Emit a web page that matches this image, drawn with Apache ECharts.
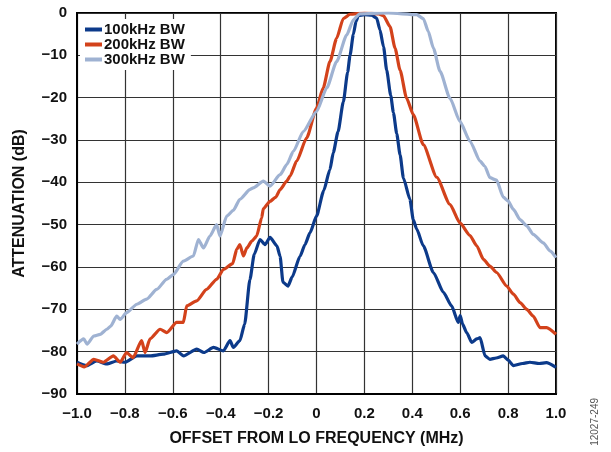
<!DOCTYPE html>
<html>
<head>
<meta charset="utf-8">
<script src="https://cdn.jsdelivr.net/npm/echarts@6/dist/echarts.min.js"></script>
<style>
html,body{margin:0;padding:0;background:#fff;}
#chart{width:611px;height:452px;}
</style>
</head>
<body>
<div id="chart"></div>
<script>
// ---- data ----
var seriesNames = ['100kHz BW', '200kHz BW', '300kHz BW'];

var bw100X = [-1.0,-0.96,-0.918,-0.876,-0.834,-0.8,-0.75,-0.695,-0.64,-0.584,-0.555,-0.5,-0.47,-0.43,-0.389,-0.361,-0.347,-0.32,-0.3,-0.278,-0.26,-0.236,-0.215,-0.194,-0.165,-0.152,-0.14,-0.119,-0.102,-0.069,-0.048,-0.027,0.0,0.03,0.056,0.07,0.09,0.112,0.13,0.14,0.154,0.165,0.175,0.2,0.23,0.251,0.265,0.28,0.293,0.31,0.321,0.335,0.349,0.363,0.39,0.404,0.418,0.446,0.488,0.53,0.564,0.592,0.6,0.61,0.627,0.648,0.669,0.683,0.704,0.724,0.75,0.78,0.8,0.822,0.86,0.891,0.93,0.96,1.0];
var bw100Y = [-82.5,-83.3,-82.2,-82.9,-82.2,-82.5,-81,-81,-80.6,-79.8,-81,-79.4,-80.2,-79,-79.8,-77.4,-79,-77.4,-73.5,-63,-57,-53.5,-54.7,-53,-55,-57.5,-63.6,-64.5,-62.4,-57.5,-54.7,-51.9,-48,-42,-37,-33,-28,-21,-14,-10,-5,-2,-0.6,-0.4,-0.5,-1.2,-4,-8,-13.5,-19.5,-23.5,-28.5,-33.5,-39,-44,-48.8,-51,-55,-61.3,-66,-69.2,-73.1,-71.5,-73.5,-75.5,-77.8,-77,-76.7,-81,-81.8,-81.5,-81,-82,-83.3,-82.8,-82.5,-82.8,-82.6,-83.7];

var bw200X = [-1.0,-0.97,-0.93,-0.89,-0.848,-0.82,-0.793,-0.766,-0.73,-0.716,-0.695,-0.653,-0.625,-0.584,-0.556,-0.542,-0.5,-0.459,-0.417,-0.389,-0.35,-0.333,-0.32,-0.305,-0.291,-0.27,-0.25,-0.229,-0.222,-0.194,-0.17,-0.152,-0.124,-0.11,-0.083,-0.041,0.0,0.028,0.056,0.084,0.112,0.14,0.2,0.26,0.279,0.307,0.328,0.349,0.376,0.404,0.446,0.502,0.557,0.599,0.64,0.669,0.697,0.724,0.752,0.794,0.822,0.85,0.878,0.905,0.933,0.961,1.0];
var bw200Y = [-82.9,-83.6,-81.8,-82.5,-81,-82.5,-80.2,-81.4,-77.4,-80.2,-77,-74.7,-75.5,-73.1,-73.1,-69.2,-68,-65.3,-62.9,-60.6,-59.2,-55.8,-54.7,-57.4,-55.5,-53.9,-52.7,-48.4,-46.2,-44.5,-43.5,-41.7,-39.7,-38.5,-35,-29.5,-22.5,-17.7,-11.5,-6,-1.3,-0.3,0,-0.2,-0.6,-3.2,-8.3,-13.5,-20.1,-24,-31.1,-38.8,-45.2,-49.6,-52.5,-55,-58.2,-59.8,-61.3,-64.5,-66.4,-68.4,-70,-71.6,-74.3,-74.3,-75.9];

var bw300X = [-1.0,-0.972,-0.958,-0.93,-0.903,-0.875,-0.86,-0.834,-0.82,-0.793,-0.75,-0.709,-0.667,-0.626,-0.598,-0.556,-0.514,-0.493,-0.472,-0.445,-0.417,-0.403,-0.375,-0.347,-0.32,-0.278,-0.264,-0.222,-0.194,-0.152,-0.124,-0.097,-0.055,0.0,0.043,0.084,0.126,0.154,0.18,0.3,0.418,0.446,0.467,0.488,0.516,0.557,0.599,0.641,0.683,0.703,0.724,0.752,0.78,0.8,0.822,0.85,0.878,0.905,0.947,0.975,1.0];
var bw300Y = [-78.2,-77,-78.2,-76.3,-75.9,-74.7,-74,-71.6,-72.4,-70.8,-68.8,-67.6,-65.3,-62.9,-61.8,-58.6,-57.4,-53.5,-55.5,-52.7,-50,-52.7,-48,-46.6,-44,-41.7,-41.3,-39.7,-40.9,-38.2,-35.8,-32.7,-28,-23.3,-17.7,-11.5,-5.2,-1.6,-0.2,0,-0.4,-1.3,-4.4,-8.3,-13.8,-20.1,-25.6,-30.3,-35,-36.2,-38.9,-39.5,-43.5,-44.4,-46.4,-48.8,-50.3,-52.3,-54.3,-56.2,-57.8];

var xTickValues = [-1.0,-0.8,-0.6,-0.4,-0.2,0,0.2,0.4,0.6,0.8,1.0];
var xTickLabels = ['\u22121.0','\u22120.8','\u22120.6','\u22120.4','\u22120.2','0','0.2','0.4','0.6','0.8','1.0'];
var yTickValues = [0,-10,-20,-30,-40,-50,-60,-70,-80,-90];
var yTickLabels = ['0','\u221210','\u221220','\u221230','\u221240','\u221250','\u221260','\u221270','\u221280','\u221290'];

function zip(xs, ys){ return xs.map(function(x,i){ return [x, ys[i]]; }); }
function lookup(vals, labels, v){
  for (var i=0;i<vals.length;i++){ if (Math.abs(vals[i]-v)<1e-6) return labels[i]; }
  return '';
}

var colors = ['#0c3a8a', '#d3421b', '#9fb2d2'];
var font = 'Liberation Sans, Arial, Helvetica, sans-serif';

var chart = echarts.init(document.getElementById('chart'), null, {renderer:'canvas'});
chart.setOption({
  animation: false,
  backgroundColor: '#ffffff',
  grid: {left: 77, right: 55, top: 13, bottom: 57, show: true, borderColor: '#000', borderWidth: 2, backgroundColor: 'transparent'},
  legend: {
    data: seriesNames,
    orient: 'vertical',
    left: 80, top: 19,
    backgroundColor: '#fff',
    padding: [3, 6, 3, 5],
    itemGap: 0,
    itemWidth: 17, itemHeight: 4,
    icon: 'rect',
    textStyle: {fontFamily: font, fontWeight: 'bold', fontSize: 15, color: '#111', padding: [0,0,0,-3]}
  },
  xAxis: {
    type: 'value', min: -1, max: 1, interval: 0.2,
    name: 'OFFSET FROM LO FREQUENCY (MHz)', nameLocation: 'middle', nameGap: 37,
    nameTextStyle: {fontFamily: font, fontWeight: 'bold', fontSize: 16, color: '#111'},
    axisLine: {show: true, onZero: false, lineStyle: {color: '#000', width: 2}},
    axisTick: {show: false},
    axisLabel: {fontFamily: font, fontWeight: 'bold', fontSize: 15, color: '#111', margin: 12,
      formatter: function(v){ return lookup(xTickValues, xTickLabels, v); }},
    splitLine: {show: true, lineStyle: {color: '#333', width: 1.2}}
  },
  yAxis: {
    type: 'value', min: -90, max: 0, interval: 10,
    name: 'ATTENUATION (dB)', nameLocation: 'middle', nameGap: 49, nameRotate: 90,
    nameTextStyle: {fontFamily: font, fontWeight: 'bold', fontSize: 16, color: '#111'},
    axisLine: {show: true, onZero: false, lineStyle: {color: '#000', width: 2}},
    axisTick: {show: false},
    axisLabel: {fontFamily: font, fontWeight: 'bold', fontSize: 15, color: '#111', margin: 10,
      formatter: function(v){ return lookup(yTickValues, yTickLabels, v); }},
    splitLine: {show: true, lineStyle: {color: '#333', width: 1.2}}
  },
  series: [
    {name: seriesNames[0], type: 'line', data: zip(bw100X, bw100Y), showSymbol: false, smooth: 0.2, smoothMonotone: 'x', lineStyle: {color: colors[0], width: 3.2}, itemStyle: {color: colors[0]}},
    {name: seriesNames[1], type: 'line', data: zip(bw200X, bw200Y), showSymbol: false, smooth: 0.2, smoothMonotone: 'x', lineStyle: {color: colors[1], width: 3.2}, itemStyle: {color: colors[1]}},
    {name: seriesNames[2], type: 'line', data: zip(bw300X, bw300Y), showSymbol: false, smooth: 0.2, smoothMonotone: 'x', lineStyle: {color: colors[2], width: 3.2}, itemStyle: {color: colors[2]}}
  ],
  graphic: [{
    type: 'text', left: 590, top: 398, rotation: Math.PI/2,
    style: {text: '12027-249', fontFamily: font, fontSize: 10, fill: '#555'}
  }]
});
</script>
</body>
</html>
